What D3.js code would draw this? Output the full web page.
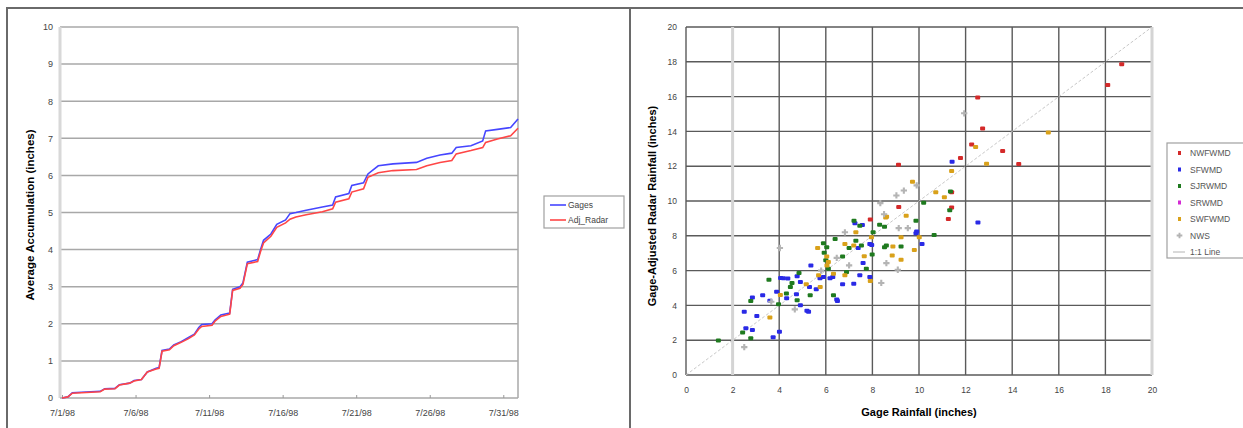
<!DOCTYPE html>
<html>
<head>
<meta charset="utf-8">
<script src="https://cdn.jsdelivr.net/npm/d3@7"></script>
<style>
  body { margin: 0; background: #fff; }
  svg { font-family: "Liberation Sans", Arial, sans-serif; }
  .tick text { fill: #444; }
</style>
</head>
<body>
<div id="chart"></div>
<script>

// ---- left chart: average accumulation (days after 7/1/98)
var days = [0, 0.4, 0.7, 2.6, 2.9, 3.6, 3.9, 4.6, 4.9, 5.4, 5.6, 5.8, 6.4, 6.6, 6.8, 7.3, 7.6, 8.1, 8.6, 9.0,
  9.3, 9.5, 10.2, 10.4, 10.8, 11.4, 11.6, 12.1, 12.3, 12.6, 13.3, 13.5, 13.7, 14.2, 14.6, 15.2, 15.5, 15.9, 16.6, 17.7,
  18.4, 18.6, 19.5, 19.7, 20.5, 20.8, 21.5, 22.5, 24.1, 24.8, 25.7, 26.5, 26.8, 27.8, 28.6, 28.8, 29.6, 30.5, 31.0];
var gages = [0, 0.03, 0.14, 0.18, 0.25, 0.26, 0.36, 0.4, 0.47, 0.5, 0.6, 0.7, 0.8, 0.82, 1.28, 1.32, 1.43, 1.52, 1.63, 1.72,
  1.9, 1.98, 2.0, 2.1, 2.24, 2.29, 2.93, 3.0, 3.1, 3.66, 3.73, 4.0, 4.25, 4.42, 4.68, 4.8, 4.97, 5.0, 5.06, 5.15,
  5.2, 5.42, 5.51, 5.73, 5.8, 6.04, 6.26, 6.31, 6.35, 6.46, 6.55, 6.6, 6.75, 6.8, 6.93, 7.2, 7.24, 7.29, 7.52];
var adjRadar = [0, 0.03, 0.13, 0.17, 0.24, 0.25, 0.35, 0.4, 0.46, 0.5, 0.6, 0.7, 0.78, 0.8, 1.26, 1.3, 1.41, 1.5, 1.6, 1.7,
  1.86, 1.93, 1.96, 2.07, 2.2, 2.26, 2.9, 2.96, 3.06, 3.62, 3.68, 3.95, 4.18, 4.36, 4.6, 4.72, 4.82, 4.88, 4.94, 5.02,
  5.1, 5.28, 5.37, 5.55, 5.64, 5.95, 6.07, 6.13, 6.16, 6.26, 6.35, 6.4, 6.58, 6.67, 6.75, 6.89, 6.98, 7.07, 7.27];
var dateTicks = [0, 5, 10, 15, 20, 25, 30];
var dateLabels = ["7/1/98", "7/6/98", "7/11/98", "7/16/98", "7/21/98", "7/26/98", "7/31/98"];

// ---- right chart: gage vs gage-adjusted radar rainfall, [gage, radar]
var nwfwmd = [[12.52,15.95],[12.73,14.17],[12.26,13.25],[13.59,12.87],[14.28,12.13],[11.78,12.47],[18.7,17.86],[18.1,16.67],
  [11.4,10.5],[11.4,9.62],[11.26,8.96],[9.12,12.08],[9.13,9.66],[7.91,8.94]];
var sfwmd = [[11.42,12.25],[12.53,8.77],[9.87,8.14],[10.13,7.53],[7.39,7.3],[7.89,7.53],[5.36,6.3],[7.6,6.43],[7.46,5.73],
  [7.89,5.63],[7.2,5.25],[6.72,5.21],[5.9,5.63],[6.3,5.63],[5.59,4.93],[5.3,5.06],[6.47,4.34],[6.5,4.25],[4.77,5.67],
  [4.06,5.57],[4.37,5.54],[3.89,4.78],[4.91,5.35],[4.74,4.64],[3.29,4.59],[2.85,4.45],[4.91,4.01],[5.19,3.69],[5.26,3.63],
  [2.5,3.63],[3.04,3.39],[2.57,2.68],[2.85,2.59],[4.01,2.49],[3.74,2.17],[7.25,8.72],[7.57,8.62],[7.97,7.47],[9.9,8.24],
  [6.18,5.56],[5.75,5.56],[4.18,5.56],[4.32,4.41],[3.6,4.27]];
var sjrwmd = [[10.2,9.9],[11.35,10.55],[11.32,9.47],[7.21,8.86],[7.46,8.58],[8.31,8.63],[8.52,8.52],[9.87,8.86],[10.65,8.05],
  [8.03,8.2],[6.4,7.82],[5.9,7.57],[6.04,7.34],[7.29,7.72],[7.53,7.44],[8.52,7.34],[8.6,7.44],[9.23,7.38],[7.99,6.92],
  [5.93,7.02],[6.72,6.81],[6.11,6.11],[6.89,5.92],[7.74,6.11],[6.33,4.59],[4.85,5.86],[4.55,5.29],[3.56,5.48],[4.31,4.68],
  [5.33,4.59],[4.48,5.06],[2.78,4.26],[3.97,4.07],[4.77,4.3],[2.43,2.44],[2.78,2.11],[1.39,1.98],[6.0,6.6],[7.0,7.3]];
var srwmd = [];
var swfwmd = [[12.43,13.1],[12.9,12.14],[15.55,13.94],[11.4,11.73],[11.09,10.22],[9.72,11.1],[10.72,10.5],[8.61,9.1],[9.45,9.15],
  [8.57,9.05],[10.01,7.91],[9.23,7.91],[7.29,8.2],[7.96,7.91],[5.65,7.3],[6.82,7.53],[7.2,7.44],[8.88,7.38],[9.8,7.19],
  [7.65,6.83],[8.85,6.87],[9.23,6.62],[6.04,6.81],[6.11,6.49],[6.82,5.73],[7.91,5.4],[5.69,5.73],[6.33,5.82],[5.76,5.06],
  [5.16,5.21],[3.6,3.31],[6.05,6.3],[4.05,4.6]];
var nws = [[11.94,15.04],[9.9,10.9],[9.35,10.6],[9.03,10.32],[8.34,9.88],[8.5,9.24],[9.52,8.44],[9.13,8.44],[6.82,8.2],
  [4.03,7.3],[6.47,6.73],[7.0,6.3],[8.6,6.43],[9.09,6.05],[8.38,5.29],[3.66,4.21],[4.67,3.77],[2.5,1.6],[5.8,6.0]];
var scatterTicks = [0, 2, 4, 6, 8, 10, 12, 14, 16, 18, 20];

var width = 1243, height = 428;

var svg = d3.select("#chart").append("svg")
    .attr("width", width)
    .attr("height", height);

// outer frames
svg.append("path")
    .attr("d", "M7,428 V8 H1243 M630,8 V428")
    .attr("fill", "none")
    .attr("stroke", "#6a6a6a")
    .attr("stroke-width", 2);

// ================= left: line chart
var x1 = d3.scaleLinear().domain([0, 31]).range([62, 518]);
var y1 = d3.scaleLinear().domain([0, 10]).range([398, 27]);

var left = svg.append("g");

left.append("g")
    .selectAll("line")
    .data(d3.range(1, 11))
  .enter().append("line")
    .attr("x1", 60).attr("x2", 518)
    .attr("y1", function(d) { return y1(d); })
    .attr("y2", function(d) { return y1(d); })
    .attr("stroke", "#a8a8a8")
    .attr("stroke-width", 1.5);

// plot edges
left.append("line").attr("x1", 60).attr("x2", 60).attr("y1", 27).attr("y2", 398)
    .attr("stroke", "#d8d8d8").attr("stroke-width", 3);
left.append("line").attr("x1", 518).attr("x2", 518).attr("y1", 27).attr("y2", 398)
    .attr("stroke", "#a8a8a8").attr("stroke-width", 1.5);
left.append("line").attr("x1", 60).attr("x2", 518).attr("y1", 398).attr("y2", 398)
    .attr("stroke", "#a8a8a8").attr("stroke-width", 1.5);

var yAxis1 = d3.axisLeft(y1).ticks(10).tickSize(0).tickPadding(7);
left.append("g")
    .attr("transform", "translate(60,0)")
    .call(yAxis1)
    .call(function(g) { g.select(".domain").remove(); })
    .selectAll("text").style("font-size", "9px");

var xAxis1 = d3.axisBottom(x1)
    .tickValues(dateTicks)
    .tickFormat(function(d, i) { return dateLabels[i]; })
    .tickSize(-3)
    .tickPadding(12);
left.append("g")
    .attr("transform", "translate(0,398)")
    .call(xAxis1)
    .call(function(g) { g.select(".domain").remove(); })
    .call(function(g) { g.selectAll(".tick line").attr("stroke", "#999"); })
    .selectAll("text").style("font-size", "9px");

left.append("text")
    .attr("transform", "translate(34,215) rotate(-90)")
    .attr("text-anchor", "middle")
    .style("font-size", "11.5px")
    .style("font-weight", "bold")
    .text("Average Accumulation (inches)");

var lineGages = d3.line()
    .x(function(d, i) { return x1(days[i]); })
    .y(function(d) { return y1(d); });

left.append("path")
    .attr("d", lineGages(gages))
    .attr("fill", "none")
    .attr("stroke", "#4646ff")
    .attr("stroke-width", 1.6);

left.append("path")
    .attr("d", lineGages(adjRadar))
    .attr("fill", "none")
    .attr("stroke", "#ff4646")
    .attr("stroke-width", 1.6);

// legend
var leg1 = left.append("g").attr("transform", "translate(544,196)");
leg1.append("rect").attr("width", 80).attr("height", 32)
    .attr("fill", "#fff").attr("stroke", "#a0a0a0").attr("stroke-width", 1.2);
[["Gages", "#4646ff"], ["Adj_Radar", "#ff4646"]].forEach(function(d, i) {
  leg1.append("line").attr("x1", 6).attr("x2", 22)
      .attr("y1", 9 + i * 15).attr("y2", 9 + i * 15)
      .attr("stroke", d[1]).attr("stroke-width", 1.6);
  leg1.append("text").attr("x", 24).attr("y", 12 + i * 15)
      .style("font-size", "8.5px").attr("fill", "#444").text(d[0]);
});

// ================= right: scatter
var x2 = d3.scaleLinear().domain([0, 20]).range([686, 1152]);
var y2 = d3.scaleLinear().domain([0, 20]).range([375, 27]);

var right = svg.append("g");

right.append("g")
    .selectAll("line")
    .data(scatterTicks)
  .enter().append("line")
    .attr("x1", 686).attr("x2", 1152)
    .attr("y1", function(d) { return y2(d); })
    .attr("y2", function(d) { return y2(d); })
    .attr("stroke", "#5a5a5a")
    .attr("stroke-width", 1.4);

right.append("g")
    .selectAll("line")
    .data(scatterTicks)
  .enter().append("line")
    .attr("y1", 27).attr("y2", 375)
    .attr("x1", function(d) { return x2(d); })
    .attr("x2", function(d) { return x2(d); })
    .attr("stroke", function(d) { return (d == 2 || d == 20) ? "#d4d4d4" : "#5a5a5a"; })
    .attr("stroke-width", function(d) { return (d == 2 || d == 20) ? 3 : 1.4; });

var yAxis2 = d3.axisLeft(y2).tickValues(scatterTicks).tickSize(0).tickPadding(9);
right.append("g")
    .attr("transform", "translate(686,0)")
    .call(yAxis2)
    .call(function(g) { g.select(".domain").remove(); })
    .selectAll("text").style("font-size", "8.5px");

var xAxis2 = d3.axisBottom(x2).tickValues(scatterTicks).tickSize(0).tickPadding(12);
right.append("g")
    .attr("transform", "translate(0,375)")
    .call(xAxis2)
    .call(function(g) { g.select(".domain").remove(); })
    .selectAll("text").style("font-size", "8.5px");

right.append("text")
    .attr("transform", "translate(656,206) rotate(-90)")
    .attr("text-anchor", "middle")
    .style("font-size", "11px")
    .style("font-weight", "bold")
    .text("Gage-Adjusted Radar Rainfall (inches)");

right.append("text")
    .attr("x", 919).attr("y", 416)
    .attr("text-anchor", "middle")
    .style("font-size", "11px")
    .style("font-weight", "bold")
    .text("Gage Rainfall (inches)");

// 1:1 line
right.append("line")
    .attr("x1", x2(0)).attr("y1", y2(0))
    .attr("x2", x2(20)).attr("y2", y2(20))
    .attr("stroke", "#c8c8c8")
    .attr("stroke-width", 1)
    .attr("stroke-dasharray", "3,2");

var groups = [
  {name: "NWFWMD", data: nwfwmd, color: "#d42a2a"},
  {name: "SFWMD", data: sfwmd, color: "#2a2ae6"},
  {name: "SJRWMD", data: sjrwmd, color: "#1f7a1f"},
  {name: "SRWMD", data: srwmd, color: "#d42ad4"},
  {name: "SWFWMD", data: swfwmd, color: "#d9a11a"}
];

groups.forEach(function(gr) {
  right.append("g")
      .selectAll("rect")
      .data(gr.data)
    .enter().append("rect")
      .attr("x", function(d) { return x2(d[0]) - 2.5; })
      .attr("y", function(d) { return y2(d[1]) - 2; })
      .attr("width", 5)
      .attr("height", 4)
      .attr("rx", 1)
      .attr("fill", gr.color);
});

var plus = d3.symbol().type(d3.symbolCross).size(22);
right.append("g")
    .selectAll("path")
    .data(nws)
  .enter().append("path")
    .attr("transform", function(d) { return "translate(" + x2(d[0]) + "," + y2(d[1]) + ")"; })
    .attr("d", plus)
    .attr("fill", "#b4b4b4");

// legend
var leg2 = right.append("g").attr("transform", "translate(1167,143)");
leg2.append("rect").attr("width", 90).attr("height", 115)
    .attr("fill", "#fff").attr("stroke", "#a0a0a0").attr("stroke-width", 1.2);
groups.forEach(function(gr, i) {
  leg2.append("rect").attr("x", 11).attr("y", 8 + i * 16.5)
      .attr("width", 3).attr("height", 4).attr("fill", gr.color);
  leg2.append("text").attr("x", 23).attr("y", 13 + i * 16.5)
      .style("font-size", "8.5px").attr("fill", "#555").text(gr.name);
});
leg2.append("path")
    .attr("transform", "translate(12.5," + (10 + 5 * 16.5) + ")")
    .attr("d", d3.symbol().type(d3.symbolCross).size(18))
    .attr("fill", "#b4b4b4");
leg2.append("text").attr("x", 23).attr("y", 13 + 5 * 16.5)
    .style("font-size", "8.5px").attr("fill", "#555").text("NWS");
leg2.append("line").attr("x1", 6).attr("x2", 18)
    .attr("y1", 10 + 6 * 16.5).attr("y2", 10 + 6 * 16.5)
    .attr("stroke", "#b4b4b4").attr("stroke-width", 1);
leg2.append("text").attr("x", 23).attr("y", 13 + 6 * 16.5)
    .style("font-size", "8.5px").attr("fill", "#555").text("1:1 Line");

</script>
</body>
</html>
